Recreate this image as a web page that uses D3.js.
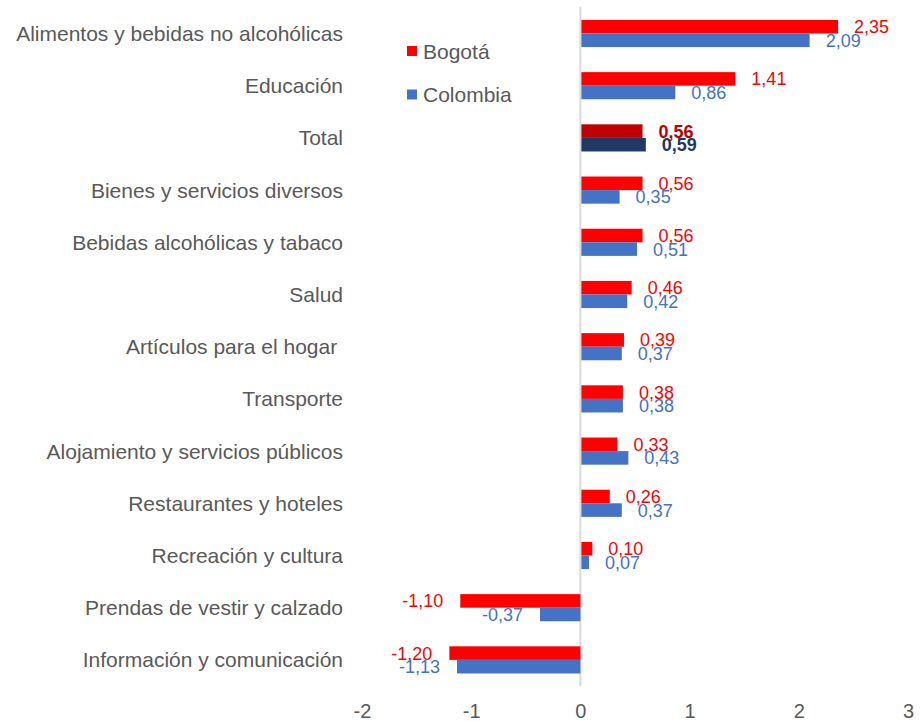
<!DOCTYPE html>
<html>
<head>
<meta charset="utf-8">
<script src="https://cdn.jsdelivr.net/npm/d3@7"></script>
<style>
  body { margin: 0; background: #fff; }
  text { font-family: "Liberation Sans", Arial, sans-serif; }
</style>
</head>
<body>
<div id="chart"></div>
<script>
// data
var categories = [
  "Alimentos y bebidas no alcohólicas",
  "Educación",
  "Total",
  "Bienes y servicios diversos",
  "Bebidas alcohólicas y tabaco",
  "Salud",
  "Artículos para el hogar\u00a0",
  "Transporte",
  "Alojamiento y servicios públicos",
  "Restaurantes y hoteles",
  "Recreación y cultura",
  "Prendas de vestir y calzado",
  "Información y comunicación"
];
var bogota   = [2.35, 1.41, 0.56, 0.56, 0.56, 0.46, 0.39, 0.38, 0.33, 0.26, 0.10, -1.10, -1.20];
var colombia = [2.09, 0.86, 0.59, 0.35, 0.51, 0.42, 0.37, 0.38, 0.43, 0.37, 0.07, -0.37, -1.13];
var seriesNames = ["Bogotá", "Colombia"];
var xTicks = [-2, -1, 0, 1, 2, 3];

var width = 920, height = 721;
var colors = {Bogotá: "#FF0000", Colombia: "#4472C4"};
var totalColors = {Bogotá: "#C00000", Colombia: "#203864"};

var svg = d3.select("#chart").append("svg")
    .attr("width", width)
    .attr("height", height);

var x = d3.scaleLinear().domain([-2, 3]).range([362, 908]);
var y = d3.scaleBand().domain(categories).range([7.4, 686]).paddingInner(0.48).paddingOuter(0.24);
var ySub = d3.scaleBand().domain(seriesNames).range([0, y.bandwidth()]);

// zero line
svg.append("line")
    .attr("x1", x(0)).attr("x2", x(0))
    .attr("y1", 7).attr("y2", 686)
    .attr("stroke", "#d9d9d9")
    .attr("stroke-width", 2);

var rows = categories.map(function(c, i) {
  return {cat: c, vals: [{s: "Bogotá", v: bogota[i]}, {s: "Colombia", v: colombia[i]}]};
});

var g = svg.selectAll(".row").data(rows).enter().append("g")
    .attr("class", "row")
    .attr("transform", function(d) { return "translate(0," + y(d.cat) + ")"; });

g.selectAll("rect").data(function(d) { return d.vals.map(function(v) { v.cat = d.cat; return v; }); })
  .enter().append("rect")
    .attr("x", function(d) { return x(Math.min(0, d.v)) + (d.v > 0 ? 1 : 0); })
    .attr("width", function(d) { return Math.abs(x(d.v) - x(0)); })
    .attr("y", function(d) { return ySub(d.s); })
    .attr("height", ySub.bandwidth())
    .attr("fill", function(d) { return d.cat == "Total" ? totalColors[d.s] : colors[d.s]; });

g.selectAll(".val").data(function(d) { return d.vals; })
  .enter().append("text")
    .attr("class", "val")
    .attr("x", function(d) { return d.v >= 0 ? x(d.v) + 17 : x(d.v) - 17; })
    .attr("y", function(d) { return ySub(d.s) + ySub.bandwidth() / 2; })
    .attr("dy", "0.36em")
    .attr("text-anchor", function(d) { return d.v >= 0 ? "start" : "end"; })
    .attr("font-size", 18)
    .attr("font-weight", function(d) { return d.cat == "Total" ? "bold" : "normal"; })
    .attr("fill", function(d) { return d.cat == "Total" ? totalColors[d.s] : colors[d.s]; })
    .text(function(d) { return d3.format(".2f")(d.v).replace("−", "-").replace(".", ","); });

// category labels
svg.selectAll(".cat").data(categories).enter().append("text")
    .attr("class", "cat")
    .attr("x", 343)
    .attr("y", function(d) { return y(d) + y.bandwidth() / 2; })
    .attr("dy", "0.36em")
    .attr("text-anchor", "end")
    .attr("font-size", 21)
    .attr("fill", "#595959")
    .style("white-space", "pre")
    .text(function(d) { return d; });

// x axis
var axis = svg.append("g")
    .attr("transform", "translate(0,704)")
    .call(d3.axisBottom(x).tickValues(xTicks).tickSize(0).tickPadding(0)
      .tickFormat(function(d) { return d3.format("d")(d).replace("−", "-"); }));
axis.select(".domain").remove();
axis.selectAll("text")
    .attr("font-size", 20)
    .attr("font-family", "Liberation Sans, Arial, sans-serif")
    .attr("fill", "#595959");

// legend
var legend = svg.selectAll(".legend").data(seriesNames).enter().append("g")
    .attr("class", "legend")
    .attr("transform", function(d, i) { return "translate(407," + (51 + i * 43.5) + ")"; });
legend.append("rect")
    .attr("x", 0).attr("y", -5)
    .attr("width", 10).attr("height", 10)
    .attr("fill", function(d) { return colors[d]; });
legend.append("text")
    .attr("x", 16).attr("y", 0)
    .attr("dy", "0.36em")
    .attr("font-size", 21)
    .attr("fill", "#595959")
    .text(function(d) { return d; });
</script>
</body>
</html>
